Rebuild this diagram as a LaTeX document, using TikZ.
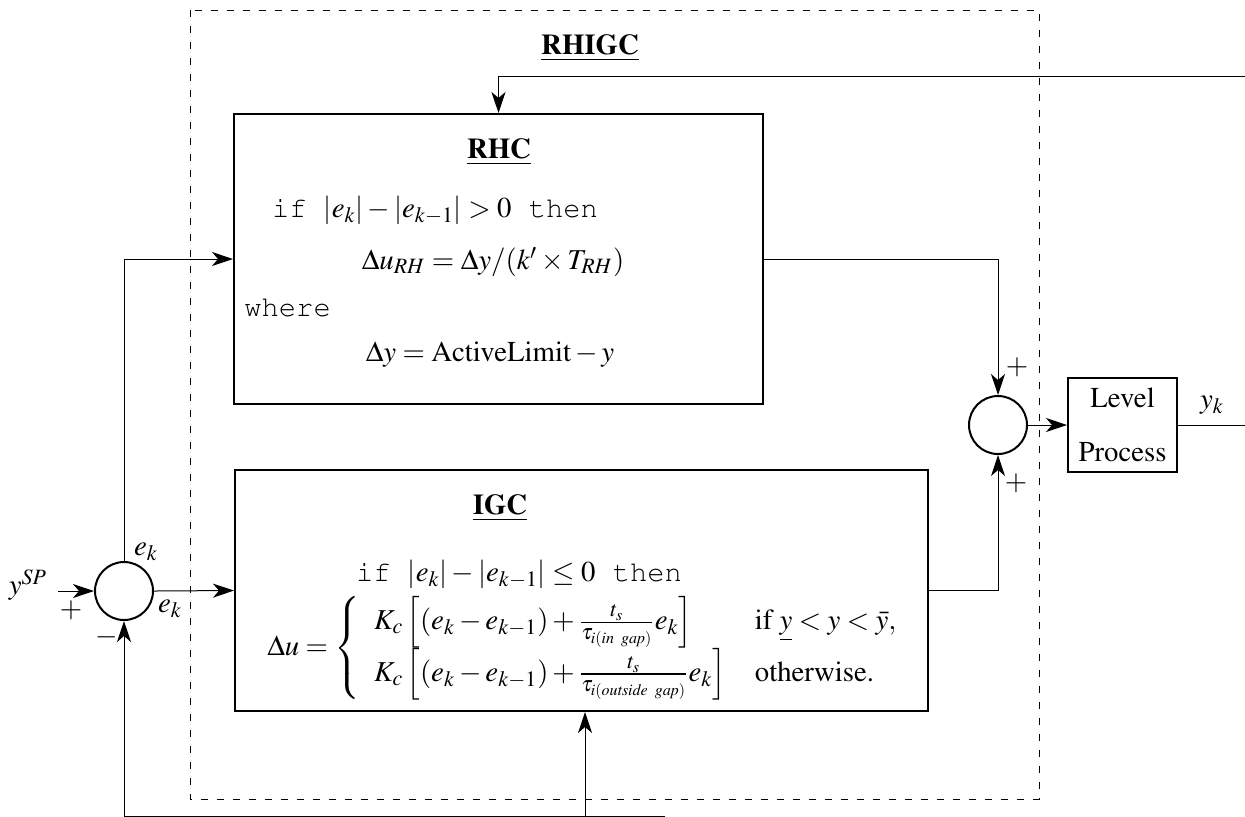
\documentclass[tikz,border=0pt]{standalone}
\usepackage[T1]{fontenc}
\usepackage{amsmath}
\usepackage{mathptmx}
\usepackage{courier}
\usetikzlibrary{arrows.meta,calc}
\begin{document}
\begin{tikzpicture}[x=0.5pt,y=-0.5pt,
  font=\fontsize{14.4}{17.28}\selectfont,
  wire/.style={line width=0.5pt},
  conn/.style={line width=0.5pt,-{Stealth[length=10.5pt,width=7pt,inset=3pt]}},
  blk/.style={draw,rectangle,line width=1pt,inner sep=0pt},
  sumc/.style={draw,circle,line width=1pt,minimum size=29pt,inner sep=0pt},
  dashbox/.style={line width=0.5pt,dash pattern=on 3.5pt off 4.5pt},
  lbl/.style={inner sep=0pt}]
\useasboundingbox (0,0) rectangle (1245,816);
% dashed frame
\draw[dashbox] (190,10) rectangle (1039,799);
\node[lbl] (thigc) at (590,48) {\textbf{\underline{RHIGC}}};
% blocks
\node[blk,minimum width=264.5pt,minimum height=145pt] (rhc) at (498.5,259) {};
\node[blk,minimum width=346.5pt,minimum height=120.5pt] (igc) at (581.5,590.5) {};
\node[blk,minimum width=54.5pt,minimum height=47pt,align=center] (lvl) at (1122.5,425) {Level\\[10pt]Process};
\node[sumc] (s1) at (124,591) {};
\node[sumc] (s2) at (998,425) {};
% RHC contents
\node[lbl] (trhc) at (499,152) {\textbf{\underline{RHC}}};
\node[lbl] (r1) at (435,210) {\texttt{if }$|e_k|-|e_{k-1}|>0$\texttt{ then}};
\node[lbl] (r2) at (493,262) {$\Delta u_{RH}=\Delta y/(k'\times T_{RH})$};
\node[lbl,anchor=west] (r3) at (244,307) {\texttt{where}};
\node[lbl] (r4) at (490,355) {$\Delta y=\mathrm{ActiveLimit}-y$};
% IGC contents
\node[lbl] (tigc) at (500,508) {\textbf{\underline{IGC}}};
\node[lbl] (g1) at (519,574) {\texttt{if }$|e_k|-|e_{k-1}|\le 0$\texttt{ then}};
\node[lbl] (g2) at (583,648) {$\Delta u=\begin{cases}
\hspace{7pt}K_c\left[(e_k-e_{k-1})+\frac{t_s}{\tau_{i(\mathit{in\ gap})}}e_k\right] & \text{if }\underline{y}<y<\bar{y},\\[3pt]
\hspace{7pt}K_c\left[(e_k-e_{k-1})+\frac{t_s}{\tau_{i(\mathit{outside\ gap})}}e_k\right] & \text{otherwise.}
\end{cases}$};
% coordinates for free ends
\coordinate (in) at (58,591);
\coordinate (out) at (1245,425);
\coordinate (fbtop) at (1245,76);
\coordinate (fbl) at (124,816);
\coordinate (fbr) at (665,816);
\coordinate (fbm) at (585,816);
% connectors
\draw[conn] (in) -- (s1.west);
\draw[conn] (s1.east) -- (igc.west);
\draw[conn] (s1.north) |- (rhc.west);
\draw[conn] (fbl) -- (s1.south);
\draw[wire] (fbl) -- (fbr);
\draw[conn] (fbm) -- (fbm |- igc.south);
\draw[conn] (fbtop) -| (rhc.north);
\draw[conn] (rhc.east) -| (s2.north);
\draw[conn] (igc.east) -| (s2.south);
\draw[conn] (s2.east) -- (lvl.west);
\draw[wire] (lvl.east) -- (out);
% signs and signal labels
\node[lbl] (ysp) at (28,585) {$y^{SP}$};
\node[lbl] (p1) at (71,610) {$+$};
\node[lbl] (m1) at (107,637) {$-$};
\node[lbl] (ek1) at (146,552) {$e_k$};
\node[lbl] (ek2) at (170,609) {$e_k$};
\node[lbl] (p2) at (1017,367) {$+$};
\node[lbl] (p3) at (1016,483) {$+$};
\node[lbl] (yk) at (1212,405) {$y_k$};
\end{tikzpicture}
\end{document}
